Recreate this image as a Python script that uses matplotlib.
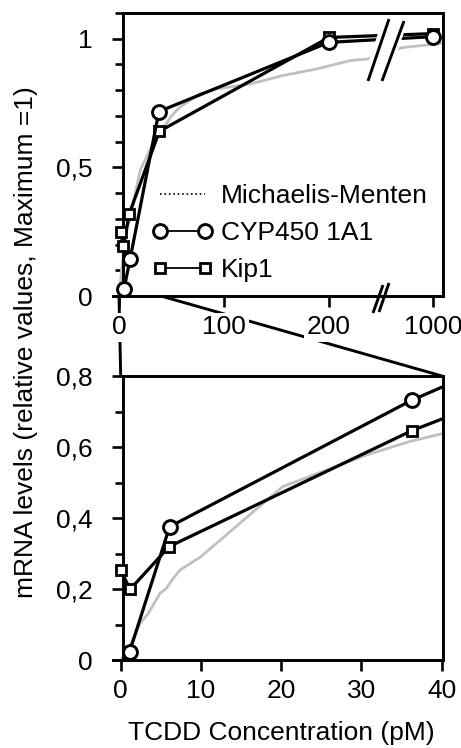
import numpy as np
import matplotlib
matplotlib.use("Agg")
import matplotlib.pyplot as plt
from matplotlib.lines import Line2D
from matplotlib.patches import ConnectionPatch, Polygon

plt.rcParams['font.family'] = ['Liberation Sans', 'DejaVu Sans']

# ---- data ----
# Michaelis-Menten curve (TCDD pM, relative mRNA)
mm_conc = [0, 1, 2.4, 3.4, 4.9, 5.7, 6.55, 7.4, 9.9, 12.4, 16.1, 20.2, 25, 30.6, 36, 40.2,
           50, 58, 77, 93, 125, 156, 188, 220, 236, 520, 1000, 1160]
mm_level = [0, 0.03, 0.103, 0.13, 0.188, 0.202, 0.23, 0.254, 0.29, 0.338, 0.41, 0.489, 0.53,
            0.578, 0.616, 0.639, 0.70, 0.734, 0.786, 0.805, 0.824, 0.857, 0.882, 0.915, 0.921,
            0.966, 0.978, 0.983]

# upper panel (full range, broken axis)
cyp_top_conc = [4.8, 10.5, 38, 200, 1000]
cyp_top = [0.028, 0.142, 0.717, 0.986, 1.008]
kip_top_conc = [1.6, 4.1, 9.8, 38.4, 200, 1000]
kip_top = [0.247, 0.195, 0.32, 0.64, 1.005, 1.02]

# lower panel (0-40 pM), last point is where the line leaves the frame
cyp_bot_conc = [1.1, 6.1, 36.3, 40.2]
cyp_bot = [0.023, 0.376, 0.733, 0.771]
kip_bot_conc = [0, 1.16, 6.05, 36.3, 40.2]
kip_bot = [0.254, 0.199, 0.32, 0.647, 0.681]

top_xticks = [0, 100, 200, 1000]
top_xlabels = ['0', '100', '200', '1000']
top_yticks = [0, 0.5, 1]
top_ylabels = ['0', '0,5', '1']
bot_xticks = [0, 10, 20, 30, 40]
bot_yticks = [0, 0.2, 0.4, 0.6, 0.8]
bot_ylabels = ['0', '0,2', '0,4', '0,6', '0,8']


def brk(x):
    # broken axis: linear up to 250, then compressed segment around 1000
    x = np.asarray(x, dtype=float)
    return np.where(x <= 250, x, 299.3 + (x - 1000) * 0.06)


W, H = 461, 748
fig = plt.figure(figsize=(W / 100, H / 100), dpi=100)


def fx(px):
    return px / W


def fy(py):
    return 1 - py / H


ax1 = fig.add_axes([fx(113), fy(296), 330 / W, 283 / H])
ax2 = fig.add_axes([fx(113), fy(660), 330 / W, (660 - 376.3) / H])

gray = '#c0c0c0'
lw = 2.3
circ = dict(marker='o', ms=10, mew=2.1, mfc='white', mec='black')
sq = dict(marker='s', ms=7.4, mew=2.0, mfc='white', mec='black')

# top panel
ax1.plot(brk(mm_conc), mm_level, color=gray, lw=2, zorder=2)
ax1.plot(brk(kip_top_conc), kip_top, color='black', lw=lw, zorder=3, **sq)
ax1.plot(brk(cyp_top_conc), cyp_top, color='black', lw=lw, zorder=4, **circ)
ax1.set_xlim(-5.714, 308.57)
ax1.set_ylim(0, 1.1)
ax1.set_xticks(brk(top_xticks))
ax1.set_xticklabels(top_xlabels)
ax1.set_yticks(top_yticks)
ax1.set_yticklabels(top_ylabels)
ax1.set_yticks(np.arange(0, 1.11, 0.1), minor=True)
ax1.spines['left'].set_position(('data', 3.81))
ax1.spines['top'].set_bounds(3.81, 308.57)

# bottom panel
ax2.plot(mm_conc, mm_level, color=gray, lw=2, zorder=2)
ax2.plot(kip_bot_conc, kip_bot, color='black', lw=lw, zorder=3, markevery=[0, 1, 2, 3], **sq)
ax2.plot(cyp_bot_conc, cyp_bot, color='black', lw=lw, zorder=4, markevery=[0, 1, 2], **circ)
ax2.set_xlim(-0.96, 40.16)
ax2.set_ylim(0, 0.8)
ax2.set_xticks(bot_xticks)
ax2.set_yticks(bot_yticks)
ax2.set_yticklabels(bot_ylabels)
ax2.set_yticks([0.1, 0.3, 0.5, 0.7], minor=True)
ax2.spines['left'].set_position(('data', 0.29))
ax2.spines['top'].set_bounds(0.29, 40.16)

for ax in (ax1, ax2):
    for s in ax.spines.values():
        s.set_linewidth(2.1)
    ax.tick_params(which='both', direction='out', width=1.9, labelsize=19)
    ax.tick_params(which='major', length=8)
    ax.tick_params(which='minor', length=5.5)
    ax.tick_params(axis='y', pad=14)
    ax.tick_params(axis='x', pad=6)

plt.setp(ax1.get_xticklabels(), bbox=dict(facecolor='white', edgecolor='none', pad=2))

# zoom connector lines (drawn below the tick labels)
for xyA, xyB, cB in [((0, 0), (0, 0.8), ax2.transData), ((40, 0), (1, 1), ax2.transAxes)]:
    con = ConnectionPatch(xyA=xyA, coordsA=ax1.transData, xyB=xyB, coordsB=cB,
                          color='black', lw=2.1, zorder=-1)
    fig.add_artist(con)

# axis break in the upper panel
def pts(seq):
    return [(fx(a), fy(b)) for a, b in seq]

fig.add_artist(Polygon(pts([(362, 82), (383, 18), (409, 18), (387, 82)]), closed=True,
                       transform=fig.transFigure, facecolor='white', edgecolor='none', zorder=5))
for seg in [[(368, 81), (389, 19)], [(382, 81), (404, 21)],
            [(373, 313), (383, 285)], [(379, 312), (389, 283)]]:
    p = pts(seg)
    fig.add_artist(Line2D([p[0][0], p[1][0]], [p[0][1], p[1][1]], transform=fig.transFigure,
                          color='black', lw=2.1, zorder=6, solid_capstyle='butt'))

# legend
handles = [Line2D([], [], ls=':', color='black', lw=1.2),
           Line2D([], [], color='black', lw=1.3, **circ),
           Line2D([], [], color='black', lw=1.3, **sq)]
ax1.legend(handles, ['Michaelis-Menten', 'CYP450 1A1', 'Kip1'], loc='upper left',
           bbox_to_anchor=(fx(152), fy(184)), bbox_transform=fig.transFigure,
           frameon=False, fontsize=19, handlelength=2.3, handletextpad=0.3,
           labelspacing=0.5, borderpad=0, borderaxespad=0, numpoints=2)

fig.text(fx(26), fy(342), 'mRNA levels (relative values, Maximum =1)', rotation=90,
         ha='center', va='center', fontsize=19)
fig.text(fx(281.5), fy(733), 'TCDD Concentration (pM)', ha='center', va='center', fontsize=19)

fig.savefig('out.png', dpi=100)
